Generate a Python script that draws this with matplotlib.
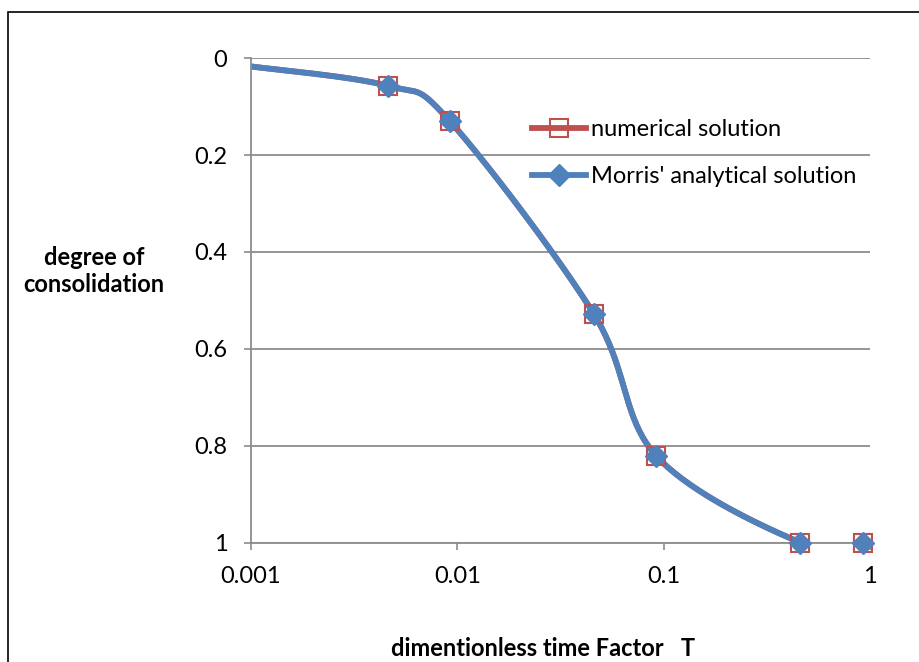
import numpy as np
import matplotlib.pyplot as plt
from matplotlib.patches import Rectangle

plt.rcParams['font.family'] = ['Lato', 'DejaVu Sans']

# dimensionless time factor and degree of consolidation
T = [0.001, 0.0046, 0.0092, 0.046, 0.092, 0.46, 0.92]
U_numerical = [0.017, 0.057, 0.130, 0.529, 0.821, 1.0, 1.0]
U_morris = [0.017, 0.057, 0.130, 0.529, 0.821, 1.0, 1.0]

y_ticks = [0, 0.2, 0.4, 0.6, 0.8, 1]
y_ticklabels = ['0', '0.2', '0.4', '0.6', '0.8', '1']
x_ticks = [0.001, 0.01, 0.1, 1]
x_ticklabels = ['0.001', '0.01', '0.1', '1']

RED = '#C0504D'
BLUE = '#4F81BD'
GRID = '#8C8C8C'
FS = 17


def smooth(x, y, sx=619.0, sy=484.0, n=40):
    """Catmull-Rom style smoothing done in screen-like units (log x)."""
    u = (np.log10(np.asarray(x, float)) + 3) / 3 * sx
    v = np.asarray(y, float) * sy
    P = np.column_stack([u, v])
    out = [P[0]]
    t = np.linspace(0, 1, n)[1:, None]
    for i in range(len(P) - 1):
        p0 = P[i - 1] if i > 0 else P[i]
        p3 = P[i + 2] if i + 2 < len(P) else P[i + 1]
        c1 = P[i] + (P[i + 1] - p0) / 6
        c2 = P[i + 1] - (p3 - P[i]) / 6
        seg = ((1 - t) ** 3 * P[i] + 3 * (1 - t) ** 2 * t * c1
               + 3 * (1 - t) * t ** 2 * c2 + t ** 3 * P[i + 1])
        out.extend(seg)
    out = np.array(out)
    return 10 ** (out[:, 0] / sx * 3 - 3), out[:, 1] / sy


fig = plt.figure(figsize=(9.2, 6.62), dpi=100)
ax = fig.add_axes([0.2728, 0.1804, 0.6729, 0.7317])

sq = dict(marker='s', ms=13, mfc='none', mec=RED, mew=1.5)
dm = dict(marker='D', ms=11, mfc=BLUE, mec=BLUE)

sx, sy = smooth(T, U_numerical)
ax.plot(sx, sy, color=RED, lw=4.2, solid_capstyle='butt')
ax.plot(T[1:], U_numerical[1:], ls='none', clip_on=False, zorder=3, **sq)
mx, my = smooth(T, U_morris)
ax.plot(mx, my, color=BLUE, lw=4.2, solid_capstyle='butt')
ax.plot(T[1:], U_morris[1:], ls='none', clip_on=False, zorder=3, **dm)

# legend proxies
h1, = ax.plot([], [], color=RED, lw=4.2, **sq)
h2, = ax.plot([], [], color=BLUE, lw=4.2, **dm)
ax.legend([h1, h2], ['numerical solution', "Morris' analytical solution"],
          loc='upper left', bbox_to_anchor=(0.438, 0.893), frameon=False,
          fontsize=FS, handlelength=2.3, handletextpad=0.2,
          labelspacing=1.09, borderaxespad=0)

ax.set_xscale('log')
ax.set_xlim(0.001, 1)
ax.set_ylim(1, 0)
ax.set_yticks(y_ticks)
ax.set_yticklabels(y_ticklabels)
ax.set_xticks(x_ticks)
ax.set_xticklabels(x_ticklabels)
ax.minorticks_off()
ax.tick_params(axis='both', labelsize=FS, color=GRID, length=5, width=1.2)
ax.tick_params(axis='y', pad=12)
ax.tick_params(axis='x', pad=12)

ax.grid(axis='y', color=GRID, lw=1.3)
ax.set_axisbelow(True)
for side in ['top', 'right']:
    ax.spines[side].set_visible(False)
for side in ['left', 'bottom']:
    ax.spines[side].set_color(GRID)
    ax.spines[side].set_linewidth(1.3)

fig.text(0.102, 0.591, 'degree of\nconsolidation', ha='center', va='center',
         fontsize=FS, fontweight='bold', linespacing=1.2)
fig.text(0.59, 0.021, 'dimentionless time Factor   T', ha='center',
         va='center', fontsize=FS, fontweight='bold')

fig.patches.append(Rectangle((0.0087, -0.05), 1.2, 1.032, transform=fig.transFigure,
                             fill=False, ec='black', lw=1.2))

fig.savefig('out.png', dpi=100)
